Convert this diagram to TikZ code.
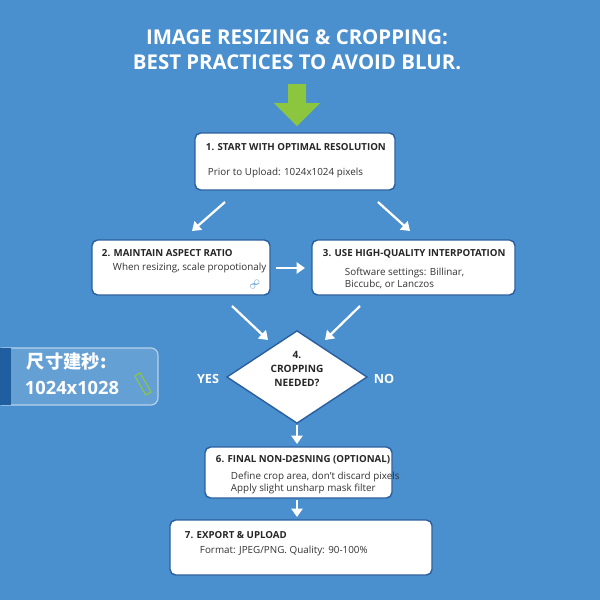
\documentclass[tikz,border=0pt]{standalone}
\usepackage{fontspec}
\setmainfont{Open Sans}
\newfontfamily\cjk{Noto Sans CJK SC}
\newfontfamily\dejavu{DejaVu Sans}
\usetikzlibrary{positioning}
\usetikzlibrary{shapes.geometric}
\usetikzlibrary{arrows.meta}
\definecolor{bgblue}{HTML}{4A8FCE}
\definecolor{boxline}{HTML}{2A5F9E}
\definecolor{dark}{HTML}{1F5FA0}
\definecolor{leaf}{HTML}{8CC63F}
\tikzset{
  stepbox/.style={draw=boxline, line width=1pt, fill=white, rounded corners=4pt},
  boxtitle/.style={font=\bfseries\fontsize{6.9}{9}\selectfont, text=black!85},
  boxtext/.style={font=\fontsize{7}{8.5}\selectfont, text=black!80, align=left},
  flow/.style={white, line width=1.6pt, -{Triangle[length=6pt,width=8pt]}},
}
\begin{document}
\begin{tikzpicture}[x=0.025cm, y=-0.025cm]
  \useasboundingbox (0,0) rectangle (600,600);
  \fill[bgblue] (0,0) rectangle (600,600);

  % title
  \node (title) at (297,50) [white, align=center, font=\bfseries\fontsize{14.5}{18}\selectfont]
    {IMAGE RESIZING \& CROPPING:\\BEST PRACTICES TO AVOID BLUR.};
  \fill[leaf] (288,84) -- (306,84) -- (306,103) -- (320,103) -- (297,126) -- (274,103) -- (288,103) -- cycle;

  % boxes
  \draw[stepbox] (195,133) rectangle (395,190);
  \node[boxtitle, anchor=west] (t1) at (201,147) {1. START WITH OPTIMAL RESOLUTION};
  \node[boxtext, anchor=west] (s1) at (203,173) {Prior to Upload: 1024x1024 pixels};

  \draw[stepbox] (92,240) rectangle (270,295);
  \node[boxtitle, anchor=west] (t2) at (97,253) {2. MAINTAIN ASPECT RATIO};
  \node[boxtext, anchor=west] (s2) at (108,268) {When resizing, scale propotionaly};
  \node[text=bgblue, font=\fontsize{8}{8}\selectfont, rotate=45, inner sep=0pt] (link) at (255,285) {$\infty$};

  \draw[stepbox] (312,240) rectangle (515,295);
  \node[boxtitle, anchor=west] (t3) at (318,254) {3. USE HIGH-QUALITY INTERPOTATION};
  \node[boxtext, anchor=north west] (s3) at (340,263) {Software settings: Billinar,\\Biccubc, or Lanczos};

  \node[diamond, draw=boxline, line width=1pt, fill=white, minimum width=100pt, minimum height=66pt, inner sep=0pt] (d4) at (297,377) {};
  \node[boxtitle, align=center, font=\bfseries\fontsize{7.2}{10}\selectfont] (t4) at (297,369) {4.\\CROPPING\\NEEDED?};
  \node[white, font=\bfseries\fontsize{9}{9}\selectfont] (yes) at (208,379) {YES};
  \node[white, font=\bfseries\fontsize{9}{9}\selectfont] (no) at (384,379) {NO};

  \draw[stepbox] (205,447) rectangle (392,498);
  \node[boxtitle, anchor=west] (t6) at (211,460) {6. FINAL NON-D{\dejavu\bfseries\fontsize{6.6}{9}\selectfont Ƨ}SNING (OPTIONAL)};
  \node[boxtext, anchor=north west] (s6) at (226,467) {Define crop area, don't discard pixels\\Apply slight unsharp mask filter};

  \draw[stepbox] (170,520) rectangle (432,575);
  \node[boxtitle, anchor=west] (t7) at (180,535) {7. EXPORT \& UPLOAD};
  \node[boxtext, anchor=west] (s7) at (195,551) {Format: JPEG/PNG. Quality: 90-100\%};

  % side note
  \draw[white!60!bgblue, fill=white!15!bgblue, rounded corners=5pt, line width=0.8pt] (-5,348) rectangle (158,405);
  \fill[dark] (0,348) rectangle (11,405);
  \node[white, anchor=west, font=\cjk\bfseries\fontsize{13}{13}\selectfont] (cn) at (22,362) {尺寸建秒:};
  \node[white, anchor=west, font=\bfseries\fontsize{13}{13}\selectfont] (size) at (20,388) {1024x1028};
  \draw[leaf, line width=0.8pt, rotate around={-60:(143,384)}] (132,381) rectangle (154,387);

  % connectors
  \coordinate (a1) at (225,202); \coordinate (a1e) at (192,231);
  \coordinate (a2) at (378,202); \coordinate (a2e) at (410,231);
  \draw[flow] (a1) -- (a1e);
  \draw[flow] (a2) -- (a2e);
  \coordinate (a3) at (276,268); \coordinate (a3e) at (305,268);
  \draw[flow] (a3) -- (a3e);
  \coordinate (a4) at (232,306); \coordinate (a4e) at (268,340);
  \coordinate (a5) at (360,306); \coordinate (a5e) at (325,340);
  \draw[flow] (a4) -- (a4e);
  \draw[flow] (a5) -- (a5e);
  \coordinate (a6) at (297,425); \coordinate (a6e) at (297,444);
  \draw[flow] (a6) -- (a6e);
  \coordinate (a7) at (297,500); \coordinate (a7e) at (297,517);
  \draw[flow] (a7) -- (a7e);
\end{tikzpicture}
\end{document}
